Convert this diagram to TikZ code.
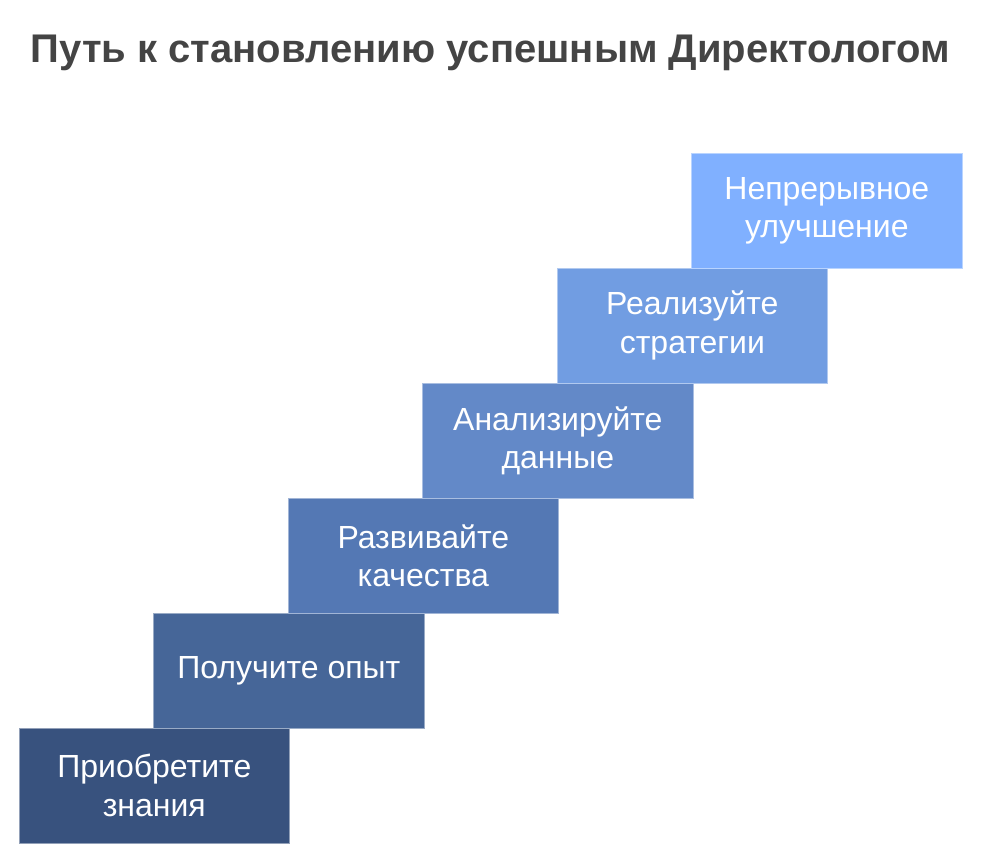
\documentclass[tikz,border=0pt]{standalone}
\usepackage{fontspec}
\setmainfont{Liberation Sans}
\usepackage{tikz}
\usetikzlibrary{positioning}
\usepackage{xcolor}
\definecolor{titlegray}{RGB}{68,68,68}
\definecolor{stairone}{RGB}{56,82,126}
\definecolor{stairtwo}{RGB}{70,102,152}
\definecolor{stairthree}{RGB}{84,120,180}
\definecolor{stairfour}{RGB}{99,137,200}
\definecolor{stairfive}{RGB}{113,157,226}
\definecolor{stairsix}{RGB}{128,176,255}
\tikzstyle{stair} = [rectangle, anchor=north west, minimum width=203pt, minimum height=86.6pt, inner sep=0pt, outer sep=0pt, text centered, align=center, text=white, font=\fontsize{24}{29}\selectfont, line width=0.6pt]
\tikzstyle{heading} = [anchor=base, font=\fontsize{30}{36}\selectfont\bfseries, text=titlegray]

\begin{document}
\begin{tikzpicture}[x=0.75pt, y=-0.75pt]
\useasboundingbox (0,0) rectangle (981,865);

% Title
\node[heading] (title) at (490.5,62) {Путь к становлению успешным Директологом};

% Stairs, bottom to top
\node[stair, fill=stairone, draw=stairone!55!white] (knowledge) at (19,728) {Приобретите\\знания};
\node[stair, fill=stairtwo, draw=stairtwo!55!white] (experience) at (153.5,613) {Получите опыт};
\node[stair, fill=stairthree, draw=stairthree!55!white] (qualities) at (288,498) {Развивайте\\качества};
\node[stair, fill=stairfour, draw=stairfour!55!white] (analysis) at (422.5,383) {Анализируйте\\данные};
\node[stair, fill=stairfive, draw=stairfive!55!white] (strategy) at (557,268) {Реализуйте\\стратегии};
\node[stair, fill=stairsix, draw=stairsix!55!white] (improvement) at (691.5,153) {Непрерывное\\улучшение};
\end{tikzpicture}
\end{document}
